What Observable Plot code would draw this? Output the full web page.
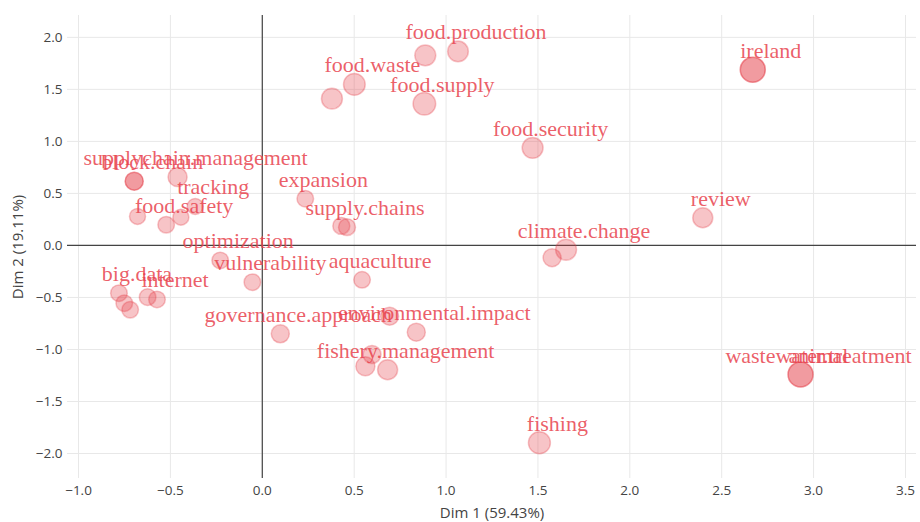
<!DOCTYPE html>
<html>
<head>
<meta charset="utf-8">
<script src="https://cdn.jsdelivr.net/npm/d3@7"></script>
<script src="https://cdn.jsdelivr.net/npm/@observablehq/plot@0.6"></script>
<style>
  html, body { margin: 0; padding: 0; background: #fff; }
  #chart { width: 920px; height: 522px; }
</style>
</head>
<body>
<div id="chart"></div>
<script>
// Terms ("" = unlabeled point), coordinates on Dim 1 / Dim 2, and weight (marker size)
const terms = [
  "food.production", "", "food.waste", "", "food.supply",
  "ireland", "", "food.security", "supplychain.management", "block.chain",
  "", "tracking", "food.safety", "", "",
  "expansion", "review", "supply.chains", "", "climate.change",
  "", "optimization", "vulnerability", "aquaculture", "big.data",
  "", "", "internet", "", "governance.approach",
  "environmental.impact", "", "fishery.management", "", "",
  "wastewater.treatment", "animal", "fishing"
];
const dim1 = [
  1.065, 0.887, 0.501, 0.379, 0.882,
  2.669, 2.669, 1.471, -0.461, -0.697,
  -0.697, -0.365, -0.523, -0.679, -0.443,
  0.234, 2.397, 0.461, 0.430, 1.653,
  1.577, -0.229, -0.054, 0.543, -0.780,
  -0.751, -0.719, -0.573, -0.624, 0.098,
  0.838, 0.693, 0.682, 0.597, 0.561,
  2.929, 2.929, 1.508
];
const dim2 = [
  1.865, 1.827, 1.548, 1.411, 1.362,
  1.689, 1.689, 0.938, 0.657, 0.618,
  0.618, 0.375, 0.199, 0.279, 0.272,
  0.449, 0.266, 0.176, 0.188, -0.041,
  -0.118, -0.144, -0.353, -0.330, -0.459,
  -0.555, -0.618, -0.519, -0.497, -0.849,
  -0.834, -0.680, -1.195, -1.048, -1.161,
  -1.240, -1.240, -1.897
];
const weight = [
  68, 70, 75, 70, 82,
  100, 100, 70, 58, 52,
  52, 41, 44, 41, 41,
  44, 64, 46, 46, 70,
  52, 44, 44, 44, 44,
  44, 44, 44, 44, 52,
  52, 52, 64, 52, 58,
  100, 100, 77
];
const xTicks = [-1, -0.5, 0, 0.5, 1, 1.5, 2, 2.5, 3, 3.5];
const yTicks = [-2, -1.5, -1, -0.5, 0, 0.5, 1, 1.5, 2];
const xTitle = "Dim 1 (59.43%)";
const yTitle = "Dim 2 (19.11%)";

const data = terms.map((t, i) => ({term: t, x: dim1[i], y: dim2[i], w: weight[i]}));
const red = "#e63c46";

const chart = Plot.plot({
  width: 920,
  height: 522,
  marginLeft: 67,
  marginRight: 4,
  marginTop: 15,
  marginBottom: 44,
  style: {fontFamily: "'Open Sans', sans-serif", fontSize: "13px", color: "#444", background: "#fff"},
  x: {domain: [-1.06, 3.56]},
  y: {domain: [-2.24, 2.21]},
  r: {type: "sqrt", domain: [0, 100], range: [0, 12.5]},
  marks: [
    Plot.gridX(xTicks, {stroke: "#e8e8e8", strokeOpacity: 1}),
    Plot.gridY(yTicks, {stroke: "#e8e8e8", strokeOpacity: 1}),
    Plot.ruleX([0], {stroke: "#444", strokeWidth: 1.2}),
    Plot.ruleY([0], {stroke: "#444", strokeWidth: 1.2}),
    Plot.axisX(xTicks, {tickSize: 0, tickPadding: 7, label: null, fontSize: 13.5}),
    Plot.axisY(yTicks, {tickSize: 0, tickPadding: 5, label: null, fontSize: 13.5}),
    Plot.axisX([], {tickSize: 0, label: xTitle, labelAnchor: "center", labelArrow: "none", labelOffset: 39, fontSize: 15}),
    Plot.axisY([], {tickSize: 0, label: yTitle, labelAnchor: "center", labelArrow: "none", labelOffset: 55, fontSize: 15}),
    Plot.dot(data, {x: "x", y: "y", r: "w", fill: red, fillOpacity: 0.3, stroke: red, strokeOpacity: 0.3, strokeWidth: 1.5}),
    Plot.text(data.filter(d => d.term !== ""), {
      x: "x", y: "y", text: "term", dx: 18, dy: -19,
      fontSize: 22, fontFamily: "'Liberation Serif', 'Times New Roman', serif",
      fill: "#e8434e", fillOpacity: 0.85, textAnchor: "middle", lineAnchor: "middle"
    })
  ]
});
document.getElementById("chart").appendChild(chart);
</script>
</body>
</html>
